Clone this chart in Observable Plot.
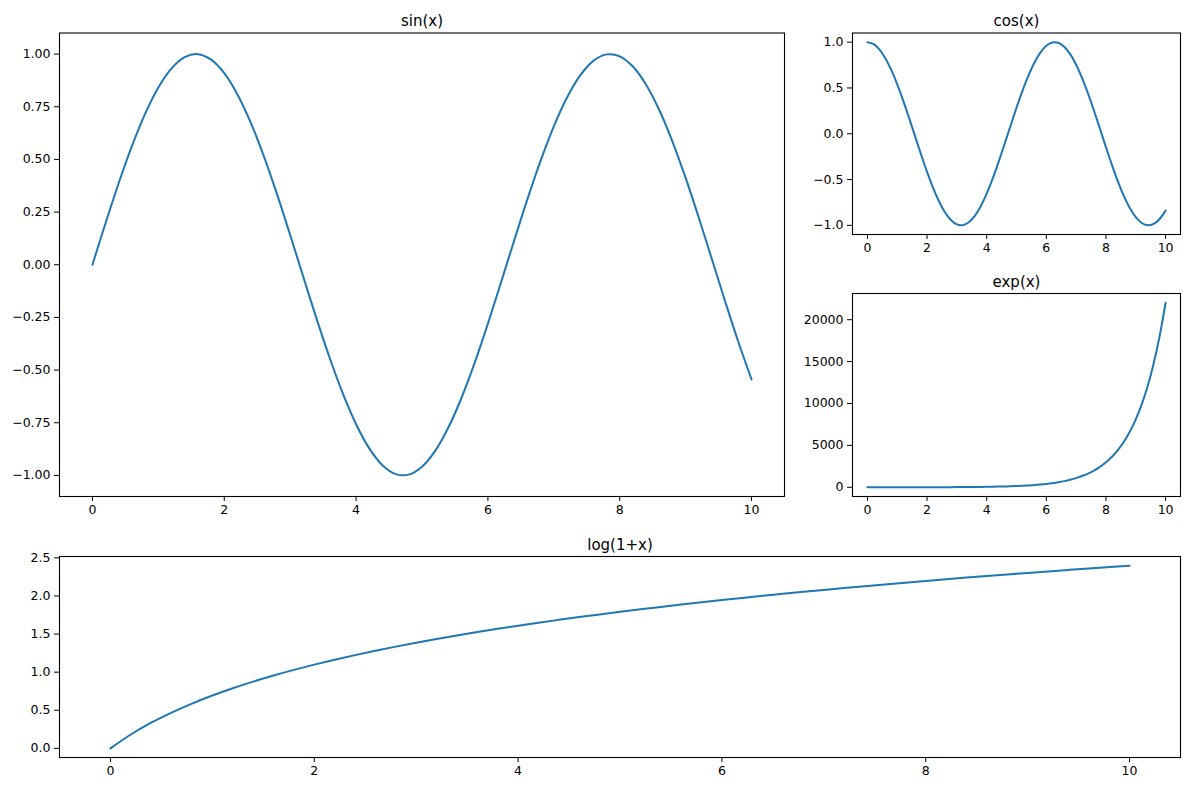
<!DOCTYPE html>
<html>
<head>
<meta charset="utf-8">
<script src="https://cdn.jsdelivr.net/npm/d3@7"></script>
<script src="https://cdn.jsdelivr.net/npm/@observablehq/plot@0.6"></script>
<style>
  html, body { margin: 0; padding: 0; background: white; }
  #fig { position: relative; width: 1190px; height: 790px; background: white; }
  #fig svg { position: absolute; left: 0; top: 0; background: transparent; max-width: none; }
</style>
</head>
<body>
<div id="fig"></div>
<script>
const xs = [0,0.2,0.4,0.6,0.8,1.0,1.2,1.4,1.6,1.8,2.0,2.2,2.4,2.6,2.8,3.0,3.2,3.4,3.6,3.8,4.0,4.2,4.4,4.6,4.8,5.0,5.2,5.4,5.6,5.8,6.0,6.2,6.4,6.6,6.8,7.0,7.2,7.4,7.6,7.8,8.0,8.2,8.4,8.6,8.8,9.0,9.2,9.4,9.6,9.8,10.0];
const sinVals = [0,0.1987,0.3894,0.5646,0.7174,0.8415,0.9320,0.9854,0.9996,0.9738,0.9093,0.8085,0.6755,0.5155,0.3350,0.1411,-0.0584,-0.2555,-0.4425,-0.6119,-0.7568,-0.8716,-0.9516,-0.9937,-0.9962,-0.9589,-0.8835,-0.7728,-0.6313,-0.4646,-0.2794,-0.0831,0.1165,0.3115,0.4941,0.6570,0.7937,0.8987,0.9679,0.9985,0.9894,0.9407,0.8546,0.7344,0.5849,0.4121,0.2229,0.0248,-0.1743,-0.3665,-0.5440];
const cosVals = [1,0.9801,0.9211,0.8253,0.6967,0.5403,0.3624,0.1700,-0.0292,-0.2272,-0.4161,-0.5885,-0.7374,-0.8569,-0.9422,-0.9900,-0.9983,-0.9668,-0.8968,-0.7910,-0.6536,-0.4903,-0.3073,-0.1122,0.0875,0.2837,0.4685,0.6347,0.7756,0.8855,0.9602,0.9965,0.9932,0.9502,0.8694,0.7539,0.6084,0.4385,0.2513,0.0540,-0.1455,-0.3392,-0.5193,-0.6787,-0.8111,-0.9111,-0.9748,-0.9997,-0.9847,-0.9304,-0.8391];
const expVals = [1,1.221,1.492,1.822,2.226,2.718,3.320,4.055,4.953,6.050,7.389,9.025,11.02,13.46,16.44,20.09,24.53,29.96,36.60,44.70,54.60,66.69,81.45,99.48,121.5,148.4,181.3,221.4,270.4,330.3,403.4,492.7,601.8,735.1,897.8,1096.6,1339.4,1636.0,1998.2,2440.6,2981.0,3641.0,4447.1,5431.7,6634.2,8103.1,9897.1,12088.4,14764.8,18033.7,22026.5];
const logVals = [0,0.1823,0.3365,0.4700,0.5878,0.6931,0.7885,0.8755,0.9555,1.0296,1.0986,1.1632,1.2238,1.2809,1.3350,1.3863,1.4351,1.4816,1.5261,1.5686,1.6094,1.6487,1.6864,1.7228,1.7579,1.7918,1.8245,1.8563,1.8871,1.9169,1.9459,1.9741,2.0015,2.0281,2.0541,2.0794,2.1041,2.1282,2.1518,2.1748,2.1972,2.2192,2.2407,2.2618,2.2824,2.3026,2.3224,2.3418,2.3609,2.3795,2.3979];

const titles = ["sin(x)", "cos(x)", "exp(x)", "log(1+x)"];
const xTicks = [0,2,4,6,8,10];
const sinTicks = [-1,-0.75,-0.5,-0.25,0,0.25,0.5,0.75,1];
const cosTicks = [-1,-0.5,0,0.5,1];
const expTicks = [0,5000,10000,15000,20000];
const logTicks = [0,0.5,1,1.5,2,2.5];

const W = 1190, H = 790;
const FONT = "'DejaVu Sans', sans-serif";
const BLUE = "#1f77b4";

function panel({vals, title, frame, yDomain, yTicks, yFmt}) {
  const data = xs.map((x, i) => ({x, y: vals[i]}));
  const [L, R, T, B] = frame;
  return Plot.plot({
    width: W, height: H,
    marginLeft: L, marginRight: W - R, marginTop: T, marginBottom: H - B,
    style: {fontFamily: FONT, fontSize: "12.5px", color: "#000", background: "transparent"},
    x: {domain: [-0.5, 10.5]},
    y: {domain: yDomain},
    marks: [
      Plot.axisX({ticks: xTicks, tickSize: 5, tickPadding: 4, tickFormat: d3.format("d"), label: null, fontSize: 12.5, stroke: "#000", strokeOpacity: 1}),
      Plot.axisY({ticks: yTicks, tickSize: 5, tickPadding: 4, tickFormat: yFmt, label: null, fontSize: 12.5, stroke: "#000", strokeOpacity: 1}),
      Plot.line(data, {x: "x", y: "y", stroke: BLUE, strokeWidth: 2, curve: "catmull-rom"}),
      Plot.frame({stroke: "#000", strokeWidth: 1.1}),
      Plot.text([title], {frameAnchor: "top", dy: -7, lineAnchor: "bottom", fontSize: 15, fill: "#000"})
    ]
  });
}

const fig = document.getElementById("fig");
fig.append(panel({vals: sinVals, title: titles[0], frame: [59, 784, 32.5, 496], yDomain: [-1.1, 1.1], yTicks: sinTicks, yFmt: d3.format(".2f")}));
fig.append(panel({vals: cosVals, title: titles[1], frame: [852, 1180, 32.5, 234], yDomain: [-1.1, 1.1], yTicks: cosTicks, yFmt: d3.format(".1f")}));
fig.append(panel({vals: expVals, title: titles[2], frame: [852, 1180, 293, 496], yDomain: [-1101.3, 23127.8], yTicks: expTicks, yFmt: d3.format("d")}));
fig.append(panel({vals: logVals, title: titles[3], frame: [59, 1180, 556, 757], yDomain: [-0.1199, 2.5178], yTicks: logTicks, yFmt: d3.format(".1f")}));
</script>
</body>
</html>
